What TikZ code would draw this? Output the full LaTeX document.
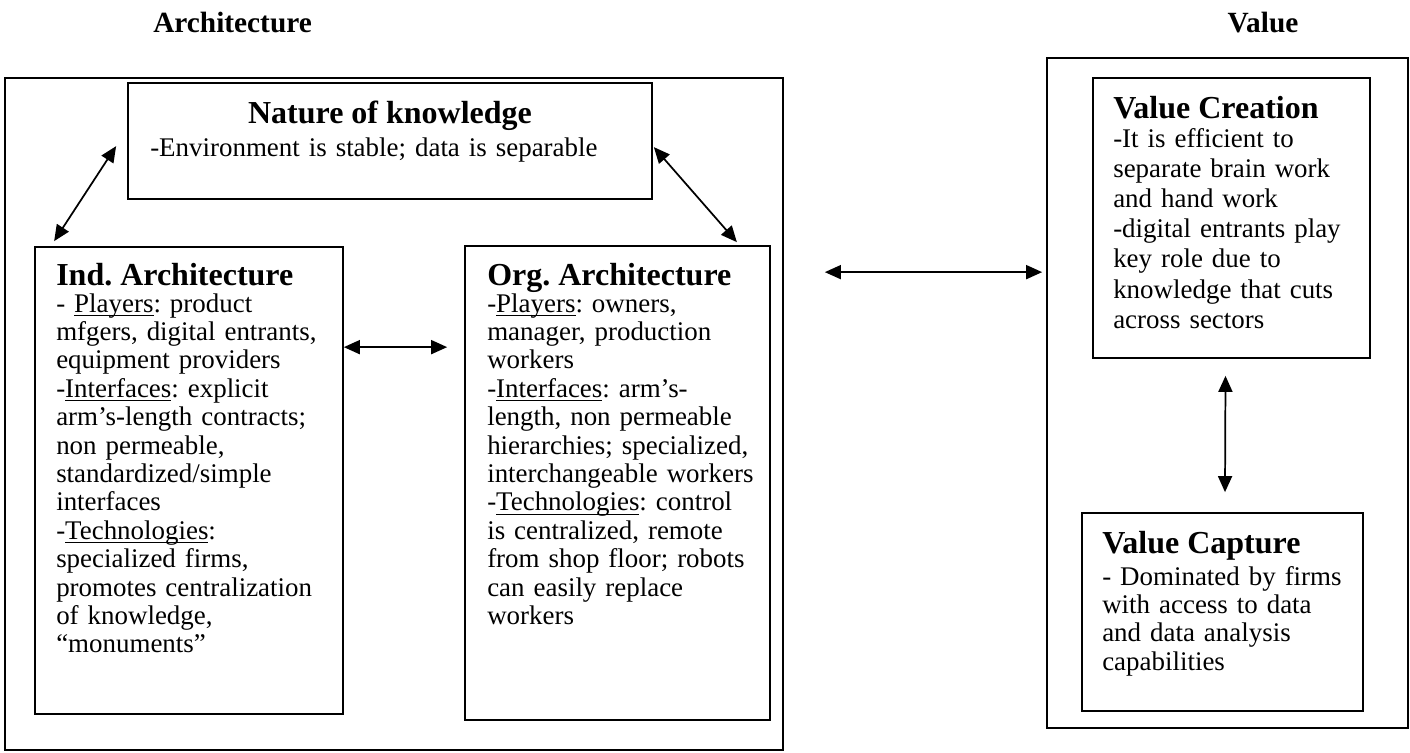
\documentclass[tikz,border=0pt]{standalone}
\usepackage{fontspec}
\setmainfont{Liberation Serif}
\usetikzlibrary{arrows.meta,fit,calc}
\newlength\myulw
\newcommand\myul[1]{\settowidth\myulw{#1}\rlap{\rule[-3pt]{\myulw}{0.8pt}}#1}
\frenchspacing
\begin{document}
\begin{tikzpicture}[x=0.75pt,y=-0.75pt,
  box/.style={draw, line width=1.3pt, inner sep=0pt},
  head/.style={font=\fontsize{24}{28}\selectfont\bfseries, inner sep=0pt, anchor=base west},
  toptitle/.style={font=\fontsize{22}{26}\selectfont\bfseries, inner sep=0pt},
  body/.style={font=\fontsize{20.2}{21.3}\selectfont, inner sep=0pt, anchor=base west, text width=400pt, align=left},
  link/.style={{Triangle[length=12pt,width=10.5pt]}-{Triangle[length=12pt,width=10.5pt]}, line width=1.3pt}
]
\useasboundingbox (0,0) rectangle (1410,753);

% titles
\node[toptitle, anchor=base west] (tarch) at (153,32) {Architecture};
\node[toptitle, anchor=base] (tval) at (1263,32) {Value};

% outer boxes
\node[box, fit={(5,78) (783,750)}] (arch) {};
\node[box, fit={(1047,58) (1408,728)}] (val) {};

% inner boxes
\node[box, fit={(128,83) (652,199)}] (nk) {};
\node[box, fit={(35,247) (343,714)}] (ind) {};
\node[box, fit={(465,246) (770,720)}] (org) {};
\node[box, fit={(1093,78) (1370,358)}] (vc) {};
\node[box, fit={(1082,513) (1363,711)}] (vcap) {};

% texts
\node[head, anchor=base] (nkh) at (390,123) {Nature of knowledge};
\node[body] (nkb) at (150,156) {-Environment is stable; data is separable};

\node[head] (indh) at (56,285) {Ind. Architecture};
\node[body] (indb) at (56,312) {- \myul{Players}: product\\
mfgers, digital entrants,\\
equipment providers\\
-\myul{Interfaces}: explicit\\
arm’s-length contracts;\\
non permeable,\\
standardized/simple\\
interfaces\\
-\myul{Technologies}:\\
specialized firms,\\
promotes centralization\\
of knowledge,\\
“monuments”};

\node[head] (orgh) at (487,285) {Org. Architecture};
\node[body] (orgb) at (487,312) {-\myul{Players}: owners,\\
manager, production\\
workers\\
-\myul{Interfaces}: arm’s-\\
length, non permeable\\
hierarchies; specialized,\\
interchangeable workers\\
-\myul{Technologies}: control\\
is centralized, remote\\
from shop floor; robots\\
can easily replace\\
workers};

\node[head] (vch) at (1113,118) {Value Creation};
\node[body, font=\fontsize{20.2}{22.65}\selectfont] (vcb) at (1113,147) {-It is efficient to\\
separate brain work\\
and hand work\\
-digital entrants play\\
key role due to\\
knowledge that cuts\\
across sectors};

\node[head] (vcaph) at (1102,553) {Value Capture};
\node[body] (vcapb) at (1102,585) {- Dominated by firms\\
with access to data\\
and data analysis\\
capabilities};

% connectors
\draw[link] ([shift={(-11,64)}]nk.north west) -- ([shift={(20,-5)}]ind.north west);
\draw[link] ([shift={(1,65)}]nk.north east) -- ([shift={(-34,-3)}]org.north east);
\draw[link] ([shift={(0,101)}]ind.north east) -- ([shift={(-17,102)}]org.north west);
\draw[link] ([shift={(41,195)}]arch.north east) -- ([shift={(-4,215)}]val.north west);
\draw[link] ([shift={(-6,17)}]vc.south) -- ([shift={(2.5,-20)}]vcap.north);
\end{tikzpicture}
\end{document}
